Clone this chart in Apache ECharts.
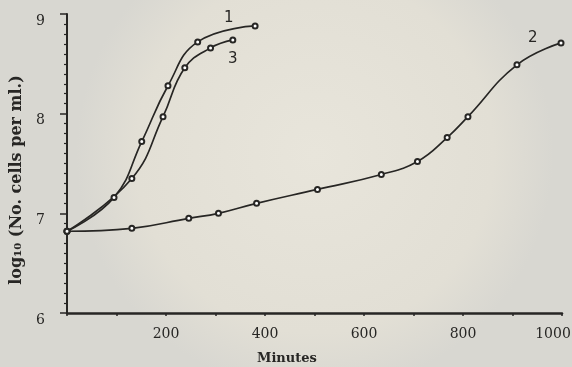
<!DOCTYPE html>
<html>
<head>
<meta charset="utf-8">
<script src="https://cdn.jsdelivr.net/npm/echarts@6/dist/echarts.min.js"></script>
<style>
  html, body { margin: 0; padding: 0; }
  #chart { width: 572px; height: 367px; }
</style>
</head>
<body>
<div id="chart"></div>
<script>
// minutes / log10 cells per ml
var curve1 = [[0, 6.82], [95, 7.16], [151, 7.72], [204, 8.28], [264, 8.72], [380, 8.88]];
var curve3 = [[0, 6.82], [131, 7.35], [194, 7.97], [238, 8.46], [290, 8.66], [335, 8.74]];
var curve2 = [[0, 6.82], [131, 6.85], [246, 6.95], [306, 7.0], [383, 7.1], [506, 7.24],
  [635, 7.39], [708, 7.52], [768, 7.76], [810, 7.97], [909, 8.49], [998, 8.71]];

var curveNames = ['1', '2', '3'];
var curveTagAt = [[327, 8.96], [941, 8.76], [335, 8.55]];
var xTickLabels = [200, 400, 600, 800, 1000];

var ink = '#272624';
var serif = 'DejaVu Serif';

var chart = echarts.init(document.getElementById('chart'));

function curveSeries(name, data, tagAt) {
  return {
    name: name,
    type: 'line',
    data: data,
    smooth: 0.45,
    symbol: 'emptyCircle',
    symbolSize: 5,
    showSymbol: true,
    lineStyle: { color: ink, width: 1.7 },
    itemStyle: { color: ink, borderColor: ink, borderWidth: 1.1 },
    z: 3,
    markPoint: {
      symbol: 'circle',
      symbolSize: 1,
      itemStyle: { color: 'rgba(0,0,0,0)' },
      data: [{ coord: tagAt, value: name }],
      label: {
        show: true,
        position: 'inside',
        formatter: name,
        color: ink,
        fontFamily: 'DejaVu Sans',
        fontSize: 15
      }
    }
  };
}

var option = {
  backgroundColor: {
    type: 'radial', x: 0.55, y: 0.42, r: 0.65,
    colorStops: [
      { offset: 0, color: '#e8e5db' },
      { offset: 0.75, color: '#e2dfd5' },
      { offset: 1, color: '#d8d7d1' }
    ]
  },
  animation: false,
  grid: { left: 67, right: 10, top: 14, bottom: 54, containLabel: false, outerBoundsMode: 'none' },
  xAxis: {
    type: 'value',
    min: 0,
    max: 1000,
    interval: 100,
    axisLine: { show: true, lineStyle: { color: ink, width: 2.5 } },
    axisTick: { show: true, inside: false, length: 3, lineStyle: { color: ink, width: 1.5 } },
    axisLabel: {
      color: ink,
      fontFamily: serif,
      fontSize: 14,
      margin: 14,
      formatter: function (v) {
        if (xTickLabels.indexOf(v) < 0) return '';
        return v === 1000 ? '{last|' + v + '}' : String(v);
      },
      rich: {
        last: { color: ink, fontFamily: serif, fontSize: 14, padding: [0, 18, 0, 0] }
      }
    },
    splitLine: { show: false }
  },
  yAxis: {
    type: 'value',
    min: 6,
    max: 9,
    interval: 1,
    axisLine: { show: true, lineStyle: { color: ink, width: 2 } },
    axisTick: { show: true, length: 7, lineStyle: { color: ink, width: 1.5 } },
    minorTick: { show: true, splitNumber: 10, length: 3, lineStyle: { color: ink, width: 1.2 } },
    axisLabel: {
      color: ink,
      fontFamily: serif,
      fontSize: 14,
      margin: 22,
      verticalAlign: 'top'
    },
    splitLine: { show: false }
  },
  graphic: [{
    type: 'text',
    left: 257,
    top: 352,
    style: { text: 'Minutes', fill: ink, font: 'bold 13px "DejaVu Serif"' }
  }, {
    type: 'text',
    x: 17,
    y: 180,
    rotation: Math.PI / 2,
    style: {
      text: 'log\u2081\u2080 (No. cells per ml.)',
      fill: ink,
      font: 'bold 16px "DejaVu Serif"',
      align: 'center',
      verticalAlign: 'middle'
    }
  }],
  series: [
    curveSeries(curveNames[0], curve1, curveTagAt[0]),
    curveSeries(curveNames[1], curve2, curveTagAt[1]),
    curveSeries(curveNames[2], curve3, curveTagAt[2])
  ]
};

chart.setOption(option);
</script>
</body>
</html>
